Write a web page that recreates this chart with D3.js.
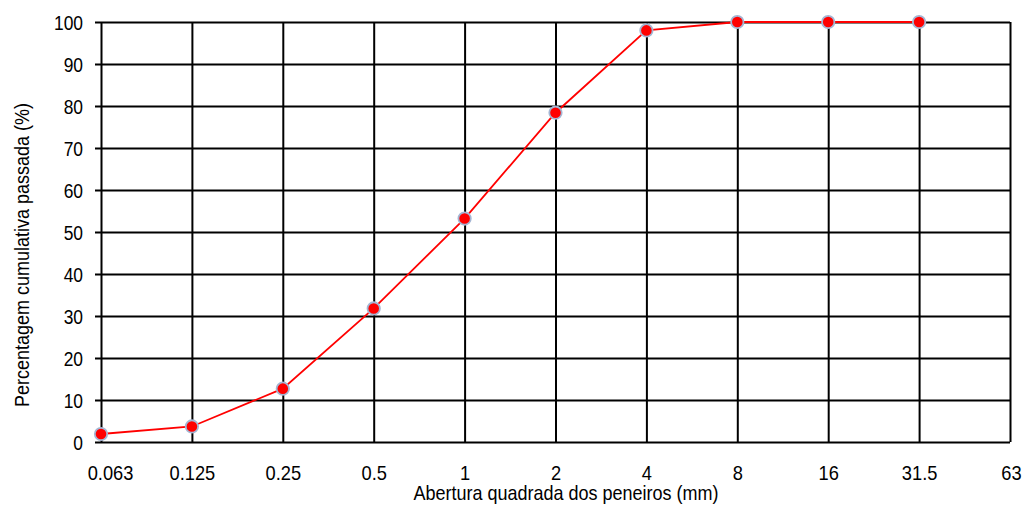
<!DOCTYPE html>
<html>
<head>
<meta charset="utf-8">
<script src="https://cdn.jsdelivr.net/npm/d3@7"></script>
<style>
  html, body { margin: 0; padding: 0; background: #fff; }
  svg { display: block; }
  text { font-family: "Liberation Sans", Arial, sans-serif; fill: #000; }
</style>
</head>
<body>
<svg id="chart" width="1023" height="506"></svg>
<script>
// Sieve openings (mm) and cumulative percentage passing
const sieves = ["0.063", "0.125", "0.25", "0.5", "1", "2", "4", "8", "16", "31.5", "63"];
const passing = [1.9, 3.7, 12.7, 31.8, 53.2, 78.4, 98.0, 100, 100, 100];
const yTicks = [0, 10, 20, 30, 40, 50, 60, 70, 80, 90, 100];

const svg = d3.select("#chart");
const plotL = 101, plotR = 1010, plotT = 22, plotB = 442;
const squeeze = 0.87;      // horizontal condensing of tick labels
const titleSqueeze = 0.9;  // horizontal condensing of axis titles

const x = d3.scalePoint().domain(sieves).range([plotL, plotR]);
const y = d3.scaleLinear().domain([0, 100]).range([plotB, plotT]);

// horizontal grid lines with tick stubs on the left
svg.append("g")
  .attr("transform", `translate(${plotL},0)`)
  .call(d3.axisLeft(y).tickValues(yTicks).tickSize(6).tickSizeOuter(0))
  .call(g => g.select(".domain").remove())
  .call(g => g.selectAll(".tick line").attr("x1", -6).attr("x2", plotR - plotL).attr("stroke", "#000").attr("stroke-width", 2))
  .call(g => g.selectAll(".tick text")
    .attr("font-size", 20)
    .attr("x", -18 / squeeze)
    .attr("dy", "0.36em")
    .attr("transform", `scale(${squeeze},1)`));

// vertical grid lines at each sieve
const labelShift = { "0.063": 9, "63": 1 };
svg.append("g")
  .attr("transform", `translate(0,${plotB})`)
  .call(d3.axisBottom(x).tickSize(-(plotB - plotT)).tickSizeOuter(0))
  .call(g => g.select(".domain").remove())
  .call(g => g.selectAll(".tick line").attr("y2", -(plotB - plotT)).attr("stroke", "#000").attr("stroke-width", 2))
  .call(g => g.selectAll(".tick text")
    .attr("font-size", 21)
    .attr("y", 23)
    .attr("dy", "0.71em")
    .attr("x", d => (labelShift[d] || 0) / squeeze)
    .attr("transform", `scale(${squeeze},1)`));

// axis titles
svg.append("text")
  .attr("transform", `translate(566,500) scale(${titleSqueeze},1)`)
  .attr("text-anchor", "middle")
  .attr("font-size", 20)
  .text("Abertura quadrada dos peneiros (mm)");

svg.append("text")
  .attr("transform", `translate(29,255) rotate(-90) scale(${titleSqueeze},1)`)
  .attr("text-anchor", "middle")
  .attr("font-size", 20)
  .text("Percentagem cumulativa passada (%)");

// grading curve
const pts = passing.map((v, i) => [x(sieves[i]), y(v)]);
svg.append("path")
  .attr("d", d3.line()(pts))
  .attr("fill", "none")
  .attr("stroke", "#ff0000")
  .attr("stroke-width", 1.8);

svg.append("g").selectAll("circle")
  .data(pts)
  .join("circle")
  .attr("cx", d => d[0])
  .attr("cy", d => d[1])
  .attr("r", 6.2)
  .attr("fill", "#ff0000")
  .attr("stroke", "#a4b6d4")
  .attr("stroke-width", 1.8);
</script>
</body>
</html>
